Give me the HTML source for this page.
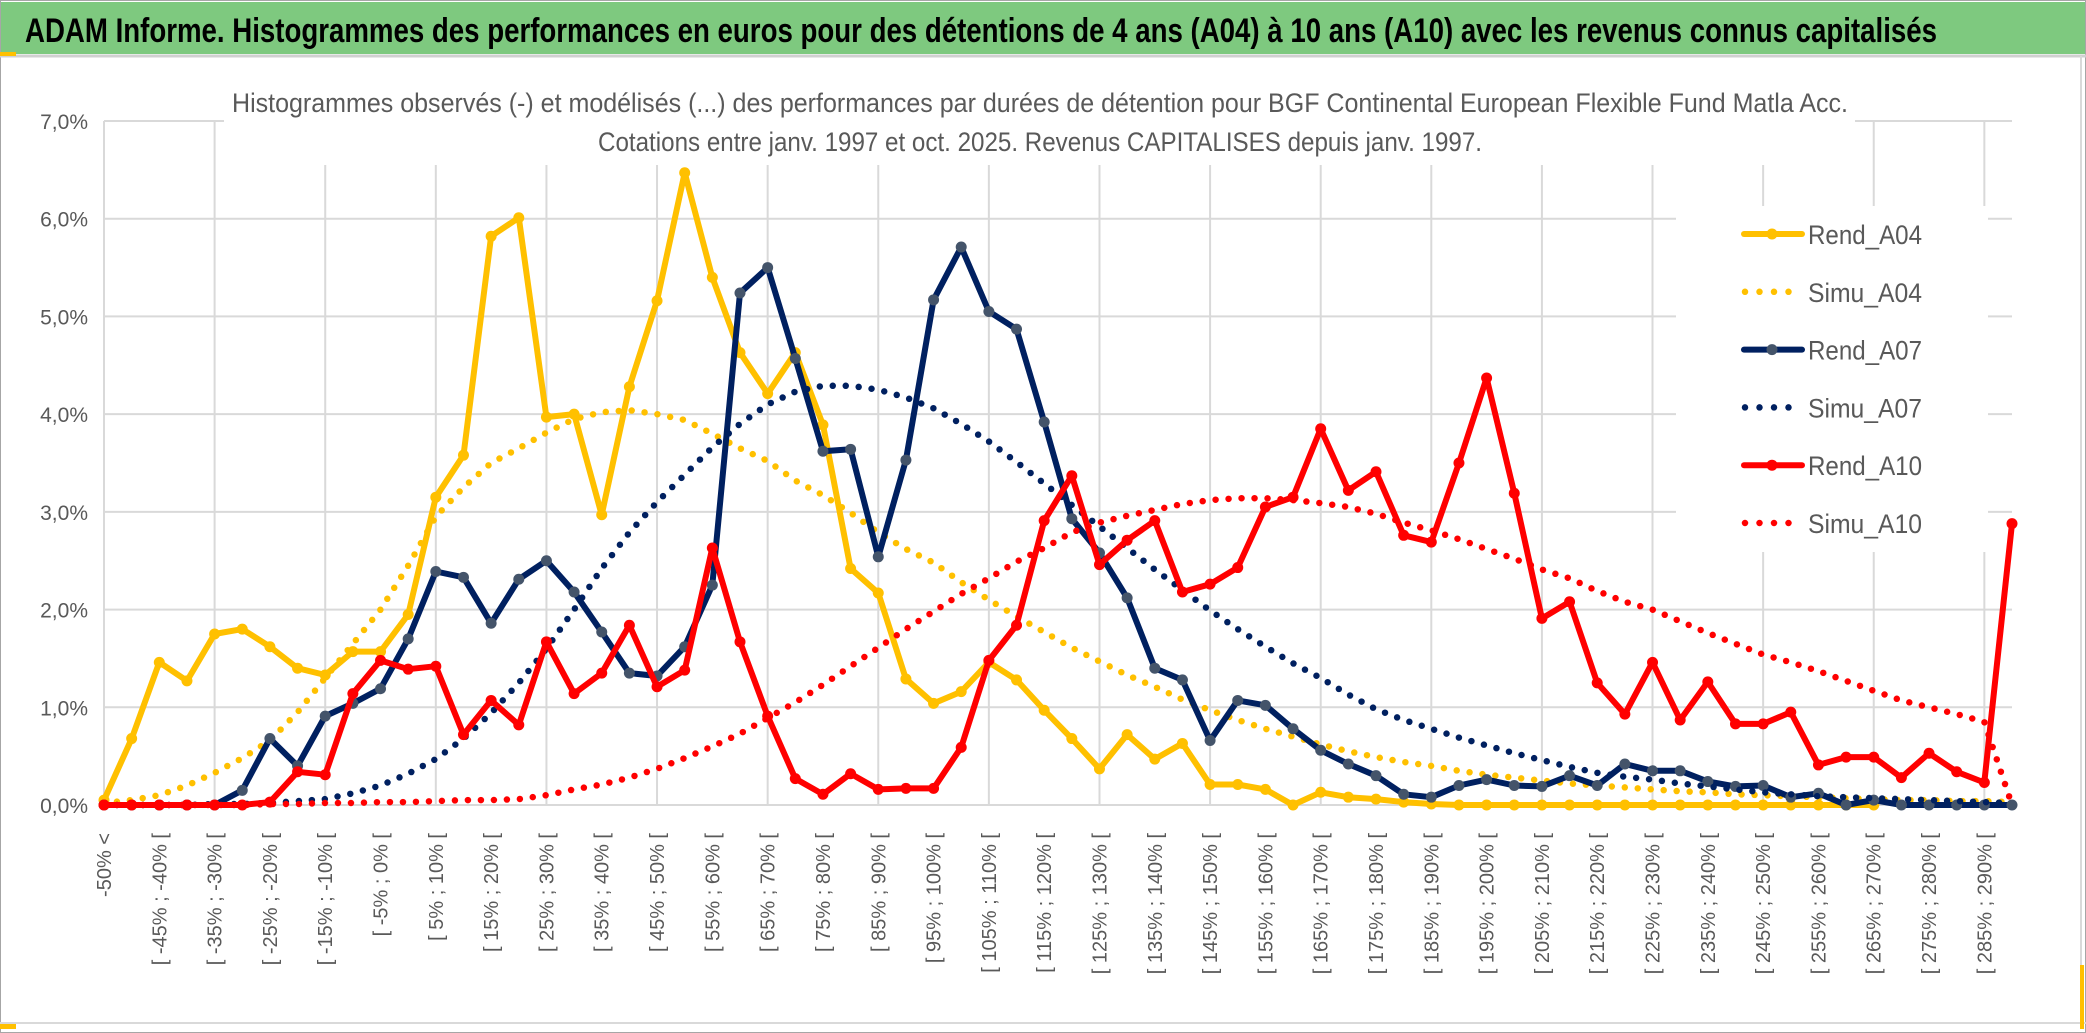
<!DOCTYPE html>
<html><head><meta charset="utf-8"><style>
html,body{margin:0;padding:0;background:#fff;}
svg{display:block;font-family:"Liberation Sans",sans-serif;}
</style></head>
<body>
<svg id="chart" width="2086" height="1033" viewBox="0 0 2086 1033" xmlns="http://www.w3.org/2000/svg">
<rect x="0" y="0" width="2086" height="1033" fill="#ffffff"/>
<rect x="0.5" y="0.5" width="2085" height="1032" fill="none" stroke="#a6a6a6"/>
<rect x="1" y="2" width="2084" height="52" fill="#7ec97f"/>
<line x1="0" y1="56" x2="2086" y2="56" stroke="#d0d0d0" stroke-width="3"/>
<rect x="0" y="52" width="16" height="4" fill="#ffc000"/>
<rect x="0" y="1023" width="16" height="6" fill="#ffc000"/>
<line x1="0" y1="1023" x2="2086" y2="1023" stroke="#d9d9d9" stroke-width="2"/>
<line x1="2081" y1="56" x2="2081" y2="1023" stroke="#d9d9d9" stroke-width="2"/>
<rect x="2080" y="965" width="4" height="64" fill="#ffc000"/>
<text x="25" y="42" font-size="34" font-weight="bold" fill="#000" textLength="1912" lengthAdjust="spacingAndGlyphs">ADAM Informe. Histogrammes des performances en euros pour des détentions de 4 ans (A04) à 10 ans (A10) avec les revenus connus capitalisés</text>
<g id="grid"></g>
<rect x="224" y="60" width="1631" height="105" fill="#fff"/>
<text x="232" y="112" font-size="27" fill="#595959" textLength="1616" lengthAdjust="spacingAndGlyphs">Histogrammes observés (-) et modélisés (...) des performances par durées de détention pour BGF Continental European Flexible Fund Matla Acc.</text>
<text x="598" y="151" font-size="27" fill="#595959" textLength="884" lengthAdjust="spacingAndGlyphs">Cotations entre janv. 1997 et oct. 2025. Revenus CAPITALISES depuis janv. 1997.</text>
<g id="axes"></g>
<g id="series"></g>
<g id="legend"></g>
</svg>
<script>
const categoriesLabels = (function(){const a=["-50% <"];for(let k=1;k<70;k++){const lo=-55+5*k;a.push("[ "+lo+"% ; "+(lo+5)+"% [");}return a;})();
const yTicks = [0,1,2,3,4,5,6,7];
const yTickLabels = ["0,0%","1,0%","2,0%","3,0%","4,0%","5,0%","6,0%","7,0%"];
const rendA04 = [0.05,0.68,1.46,1.27,1.75,1.80,1.62,1.40,1.33,1.57,1.57,1.95,3.15,3.58,5.82,6.01,3.97,4.0,2.97,4.28,5.16,6.47,5.40,4.63,4.21,4.63,3.89,2.42,2.17,1.29,1.04,1.16,1.46,1.28,0.97,0.68,0.37,0.72,0.47,0.63,0.21,0.21,0.16,0.0,0.13,0.08,0.06,0.03,0.01,0,0,0,0,0,0,0,0,0,0,0,0,0,0,0,0,null,null,null,null,null];
const simuA04 = [0.02,0.05,0.1,0.2,0.33,0.48,0.66,0.95,1.3,1.65,2.0,2.45,2.95,3.25,3.5,3.65,3.81,3.95,4.02,4.04,4.0,3.94,3.8,3.65,3.52,3.32,3.17,2.99,2.79,2.62,2.48,2.28,2.1,1.93,1.77,1.61,1.47,1.33,1.21,1.08,0.97,0.87,0.78,0.7,0.62,0.55,0.49,0.44,0.4,0.35,0.31,0.28,0.25,0.22,0.2,0.18,0.16,0.14,0.13,0.11,0.1,0.09,0.08,0.07,0.06,0.05,0.05,0.04,0.04,0.03];
const rendA07 = [0,0,0,0,0,0.15,0.68,0.40,0.91,1.04,1.19,1.70,2.39,2.33,1.86,2.31,2.50,2.18,1.77,1.35,1.32,1.62,2.25,5.24,5.50,4.57,3.62,3.64,2.54,3.53,5.17,5.71,5.05,4.87,3.92,2.93,2.58,2.12,1.40,1.28,0.66,1.07,1.02,0.78,0.56,0.42,0.30,0.11,0.08,0.20,0.26,0.20,0.19,0.30,0.20,0.42,0.35,0.35,0.24,0.19,0.20,0.08,0.12,0.0,0.05,0,0,0,0,0];
const simuA07 = [0,0,0,0,0.01,0.01,0.02,0.04,0.06,0.12,0.2,0.32,0.47,0.68,0.94,1.25,1.6,2.0,2.42,2.79,3.1,3.38,3.66,3.9,4.1,4.23,4.29,4.29,4.25,4.17,4.06,3.9,3.72,3.51,3.29,3.07,2.85,2.63,2.41,2.2,1.99,1.8,1.62,1.45,1.3,1.13,0.98,0.87,0.78,0.69,0.61,0.53,0.46,0.39,0.33,0.29,0.26,0.22,0.19,0.16,0.13,0.11,0.09,0.08,0.07,0.06,0.05,0.04,0.03,0.02];
const rendA10 = [0,0,0,0,0,0,0.03,0.34,0.31,1.14,1.48,1.39,1.42,0.72,1.07,0.82,1.67,1.14,1.35,1.84,1.21,1.38,2.63,1.67,0.91,0.27,0.11,0.32,0.16,0.17,0.17,0.59,1.48,1.84,2.91,3.37,2.46,2.71,2.91,2.18,2.26,2.43,3.05,3.15,3.85,3.22,3.41,2.76,2.69,3.5,4.37,3.19,1.91,2.08,1.25,0.93,1.46,0.87,1.26,0.83,0.83,0.95,0.41,0.49,0.49,0.28,0.53,0.34,0.23,2.88];
const simuA10 = [0,0,0,0,0,0,0.01,0.01,0.02,0.02,0.03,0.03,0.04,0.05,0.05,0.06,0.1,0.16,0.21,0.28,0.37,0.48,0.6,0.73,0.89,1.05,1.23,1.42,1.61,1.8,1.98,2.16,2.32,2.49,2.63,2.79,2.89,2.96,3.02,3.08,3.12,3.14,3.14,3.12,3.09,3.05,2.98,2.89,2.81,2.72,2.62,2.52,2.41,2.32,2.19,2.08,2.0,1.88,1.76,1.65,1.54,1.46,1.37,1.27,1.17,1.07,1.0,0.93,0.85,0];
const seriesNames = ["Rend_A04","Simu_A04","Rend_A07","Simu_A07","Rend_A10","Simu_A10"];

const NS="http://www.w3.org/2000/svg";
const X0=104, X1=2012, Y0=805, Y7=121;
const nCat=categoriesLabels.length;
function xPos(k){return X0+k*(X1-X0)/(nCat-1);}
function yPos(v){return Y0-(v/7)*(Y0-Y7);}
function mk(tag,attrs,parent){const e=document.createElementNS(NS,tag);for(const a in attrs)e.setAttribute(a,attrs[a]);parent.appendChild(e);return e;}

const grid=document.getElementById('grid');
yTicks.forEach(t=>{
  const l=mk('line',{x1:X0,x2:X1,y1:yPos(t),y2:yPos(t),stroke:'#d9d9d9','stroke-width':2},grid);
  
  
});
for(let k=0;k<nCat;k+=4){
  const l=mk('line',{x1:xPos(k),x2:xPos(k),y1:Y7,y2:Y0,stroke:'#d9d9d9','stroke-width':2},grid);
  
  
}
const axes=document.getElementById('axes');
yTicks.forEach((t,i)=>{
  const tx=mk('text',{x:88,y:yPos(t)+8,'font-size':21,fill:'#595959','text-anchor':'end'},axes);
  tx.textContent=yTickLabels[i];
  
  
});
for(let k=0;k<nCat;k+=2){
  const x=xPos(k)+7, y=833;
  const tx=mk('text',{x:x,y:y,'font-size':20,fill:'#595959','text-anchor':'end',transform:'rotate(-90 '+x+' '+y+')'},axes);
  tx.textContent=categoriesLabels[k];
  
  
}

const seriesG=document.getElementById('series');
function pathFor(vals){let d='',pen=false;vals.forEach((v,k)=>{if(v===null){pen=false;return;}d+=(pen?'L':'M')+xPos(k).toFixed(1)+' '+yPos(v).toFixed(1)+' ';pen=true;});return d;}
function drawRend(vals,color,marker,name){
  const g=mk('g',{},seriesG);
  
  
  mk('path',{d:pathFor(vals),fill:'none',stroke:color,'stroke-width':6,'stroke-linejoin':'round'},g);
  vals.forEach((v,k)=>{if(v===null)return;
    const c=mk('circle',{cx:xPos(k),cy:yPos(v),r:5.5,fill:marker},g);
    
    
  });
}
function drawSimu(vals,color,name){
  const p=mk('path',{d:pathFor(vals),fill:'none',stroke:color,'stroke-width':6.5,'stroke-linecap':'round','stroke-dasharray':'0 13'},seriesG);
  
  
}
drawRend(rendA04,'#ffc000','#ffc000','rend-a04-line');
drawSimu(simuA04,'#ffc000','simu-a04-line');
drawRend(rendA07,'#002060','#44546a','rend-a07-line');
drawSimu(simuA07,'#002060','simu-a07-line');
drawRend(rendA10,'#ff0000','#ff0000','rend-a10-line');
drawSimu(simuA10,'#ff0000','simu-a10-line');

const leg=document.getElementById('legend');
mk('rect',{x:1676,y:206,width:312,height:346,fill:'#fff'},leg);
const legColors=['#ffc000','#ffc000','#002060','#002060','#ff0000','#ff0000'];
const legMarkers=['#ffc000',null,'#44546a',null,'#ff0000',null];
seriesNames.forEach((n,i)=>{
  const y=234+i*57.8;
  const g=mk('g',{},leg);
  
  
  if(legMarkers[i]){
    mk('line',{x1:1744,x2:1802,y1:y,y2:y,stroke:legColors[i],'stroke-width':6,'stroke-linecap':'round'},g);
    mk('circle',{cx:1772,cy:y,r:5.5,fill:legMarkers[i]},g);
  } else {
    mk('line',{x1:1745,x2:1800,y1:y,y2:y,stroke:legColors[i],'stroke-width':6.5,'stroke-linecap':'round','stroke-dasharray':'0 14.5'},g);
  }
  const t=mk('text',{x:1808,y:y+10,'font-size':27,fill:'#595959',textLength:114,lengthAdjust:'spacingAndGlyphs'},g);
  t.textContent=n;
});
</script>
</body></html>
